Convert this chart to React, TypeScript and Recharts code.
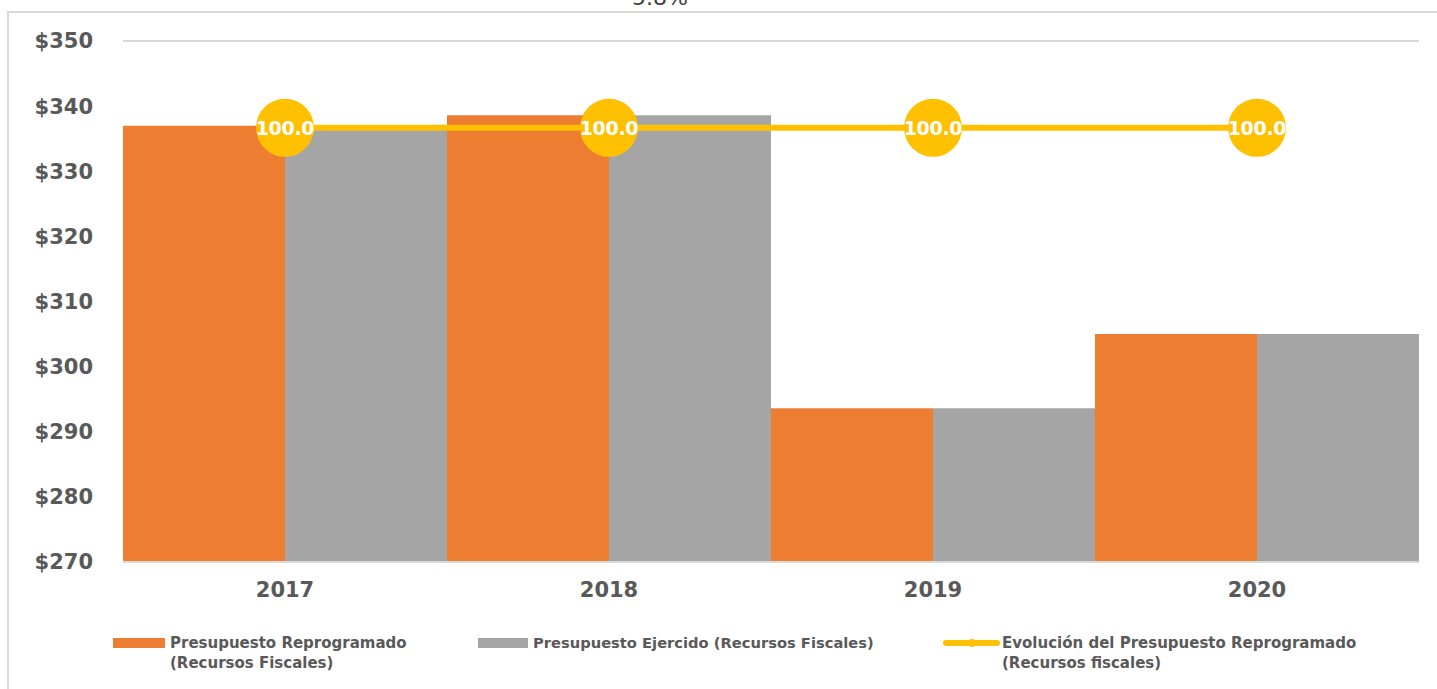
import React from "react";
import { ComposedChart, Bar, Line, XAxis, YAxis, CartesianGrid, LabelList } from "recharts";

const years = ["2017", "2018", "2019", "2020"];
const reprogramado = [337.0, 338.6, 293.6, 305.0];
const ejercido = [337.0, 338.6, 293.6, 305.0];
const evolucion = [100.0, 100.0, 100.0, 100.0];
const yTicks = [270, 280, 290, 300, 310, 320, 330, 340, 350];

const ORANGE = "#ED7D31";
const GRAY = "#A5A5A5";
const YELLOW = "#FFC000";
const TEXT = "#595959";
const FONT = "'DejaVu Sans', sans-serif";

const data = years.map((y, i) => ({
  year: y,
  rep: reprogramado[i],
  ejer: ejercido[i],
  evo: evolucion[i],
}));

const BigDot = (props: any) => {
  const { cx, cy } = props;
  if (cx == null || cy == null) return null;
  return <circle cx={cx} cy={cy} r={29} fill={YELLOW} />;
};

const DotLabel = (props: any) => {
  const { x, y, value } = props;
  return (
    <text x={x} y={y} dy={7} textAnchor="middle" fill="#fff" fontFamily={FONT} fontWeight="bold" fontSize={19} letterSpacing={-0.3}>
      {Number(value).toFixed(1)}
    </text>
  );
};

const legendText: React.CSSProperties = {
  position: "absolute",
  fontFamily: FONT,
  fontWeight: "bold",
  fontSize: 15,
  color: TEXT,
  lineHeight: "20px",
  whiteSpace: "nowrap",
};

export default function App() {
  return (
    <div style={{ position: "absolute", left: 0, top: 0, width: 1437, height: 689, overflow: "hidden", background: "#fff" }}>
      <div style={{ position: "absolute", left: 7, top: 11, right: 0, bottom: 0, borderLeft: "2px solid #D9D9D9", borderTop: "2px solid #D9D9D9" }} />
      <div style={{ position: "absolute", left: 632, top: -13, fontFamily: FONT, fontSize: 22, lineHeight: "22px", color: "#404040" }}>5.8%</div>
      <div style={{ position: "absolute", left: 0, top: 0 }}>
        <ComposedChart
          width={1437}
          height={689}
          data={data}
          margin={{ top: 41, right: 18, left: 0, bottom: 87 }}
          barCategoryGap={0}
          barGap={0}
        >
          <CartesianGrid vertical={false} stroke="#D9D9D9" strokeWidth={2} />
          <XAxis
            dataKey="year"
            height={40}
            axisLine={{ stroke: "#D9D9D9", strokeWidth: 2 }}
            tickLine={false}
            tickMargin={14}
            tick={{ fill: TEXT, fontFamily: FONT, fontWeight: "bold", fontSize: 21 }}
          />
          <YAxis
            yAxisId="left"
            width={123}
            domain={[270, 350]}
            ticks={yTicks}
            tickFormatter={(v: number) => `$${v}`}
            axisLine={false}
            tickLine={false}
            tickMargin={24}
            tick={{ fill: TEXT, fontFamily: FONT, fontWeight: "bold", fontSize: 21 }}
            allowDataOverflow
          />
          <YAxis yAxisId="right" orientation="right" domain={[0, 120]} hide />
          <Bar yAxisId="left" dataKey="rep" fill={ORANGE} isAnimationActive={false} />
          <Bar yAxisId="left" dataKey="ejer" fill={GRAY} isAnimationActive={false} />
          <Line
            yAxisId="right"
            dataKey="evo"
            stroke={YELLOW}
            strokeWidth={6}
            dot={<BigDot />}
            activeDot={false}
            isAnimationActive={false}
          >
            <LabelList dataKey="evo" content={<DotLabel />} />
          </Line>
        </ComposedChart>
      </div>
      {/* legend */}
      <div style={{ position: "absolute", left: 113, top: 638, width: 52, height: 10, background: ORANGE }} />
      <div style={{ ...legendText, left: 170, top: 633 }}>
        Presupuesto Reprogramado
        <br />
        (Recursos Fiscales)
      </div>
      <div style={{ position: "absolute", left: 478, top: 638, width: 50, height: 10, background: GRAY }} />
      <div style={{ ...legendText, left: 533, top: 633, fontSize: 14.7 }}>Presupuesto Ejercido (Recursos Fiscales)</div>
      <div style={{ position: "absolute", left: 943, top: 640, width: 57, height: 6, borderRadius: 3, background: YELLOW }} />
      <div style={{ position: "absolute", left: 968, top: 639, width: 8, height: 8, borderRadius: 4, background: YELLOW }} />
      <div style={{ ...legendText, left: 1002, top: 633 }}>
        Evolución del Presupuesto Reprogramado
        <br />
        (Recursos fiscales)
      </div>
    </div>
  );
}
